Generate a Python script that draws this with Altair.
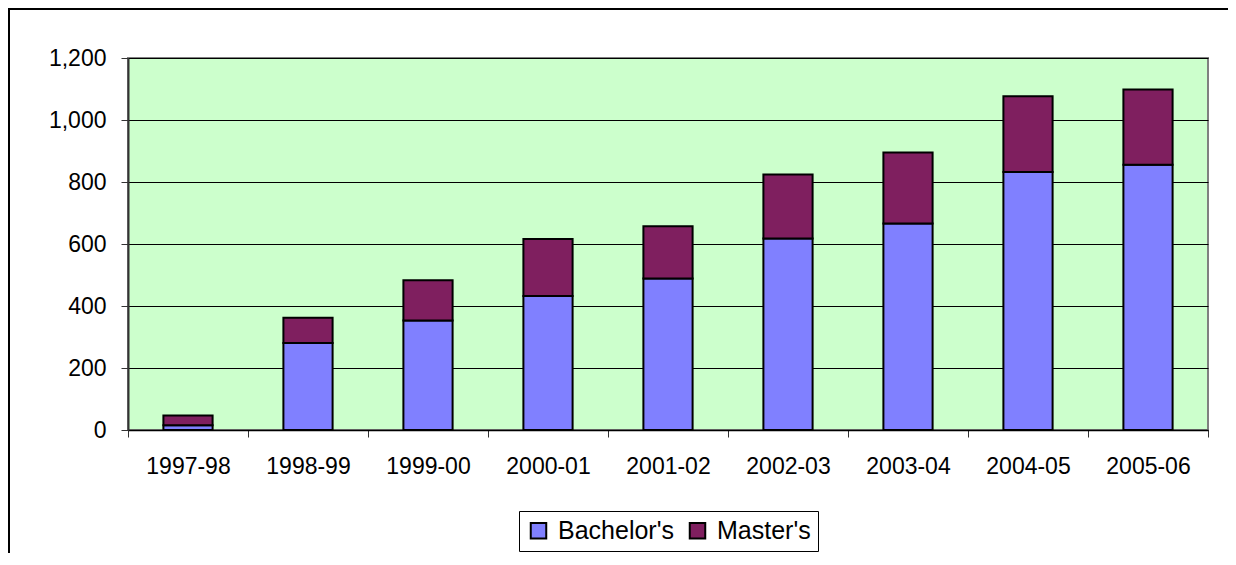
import altair as alt
import pandas as pd

years = ["1997-98", "1998-99", "1999-00", "2000-01", "2001-02",
         "2002-03", "2003-04", "2004-05", "2005-06"]
bachelors = [15, 281, 353, 432, 489, 618, 666, 832, 856]
masters = [32, 81, 130, 184, 168, 206, 229, 245, 242]
series = ["Bachelor's", "Master's"]
colors = ["#8080FF", "#7F1F5F"]
y_ticks = [0, 200, 400, 600, 800, 1000, 1200]

rows = []
for i, yr in enumerate(years):
    rows.append({"year": yr, "degree": series[0], "count": bachelors[i], "ord": 0})
    rows.append({"year": yr, "degree": series[1], "count": masters[i], "ord": 1})
df = pd.DataFrame(rows)

FONT = "Liberation Sans"
FS = 23

bars = alt.Chart(df).mark_bar(stroke="black", strokeWidth=2,
                              width=alt.RelativeBandSize(0.41)).encode(
    x=alt.X("year:N", sort=years, title=None,
            scale=alt.Scale(paddingInner=0, paddingOuter=0),
            axis=alt.Axis(labelAngle=0, tickBand="extent", tickSize=7,
                          labelPadding=18, labelFontSize=FS, labelFont=FONT,
                          labelColor="black", domainColor="black", domainWidth=1.5,
                          tickColor="#333333", grid=False)),
    y=alt.Y("count:Q", stack="zero", title=None,
            scale=alt.Scale(domain=[0, 1200], nice=False),
            axis=alt.Axis(values=y_ticks, format=",d", tickSize=7, labelPadding=15,
                          labelFontSize=FS, labelFont=FONT, labelColor="black",
                          domainColor="#333333", domainWidth=2, tickColor="#333333",
                          grid=True, gridColor="black", gridWidth=1)),
    color=alt.Color("degree:N", sort=series,
                    scale=alt.Scale(domain=series, range=colors),
                    legend=alt.Legend(title=None, orient="none", legendX=391, legendY=453,
                                      direction="horizontal", strokeColor="black",
                                      padding=7, symbolType="square", symbolSize=240,
                                      symbolStrokeColor="black", symbolStrokeWidth=2,
                                      labelFontSize=25, labelFont=FONT, labelColor="black",
                                      columnPadding=11, labelOffset=7)),
    order=alt.Order("ord:Q"),
)

frame = alt.Chart(df).mark_rect(fill=None, stroke="black", strokeWidth=1.5, clip=False).encode(
    x=alt.value(-119), x2=alt.value(1300), y=alt.value(-49), y2=alt.value(700)
)

chart = alt.layer(bars, frame).properties(
    width=1080, height=372,
    padding={"left": 120, "top": 50, "right": 20, "bottom": 123},
    autosize=alt.AutoSizeParams(type="none"),
    background="white",
).configure_view(
    fill="#CCFFCC", stroke="#808080", strokeWidth=2
)

chart.save("out.html", embed_options={"renderer": "svg", "actions": False})
